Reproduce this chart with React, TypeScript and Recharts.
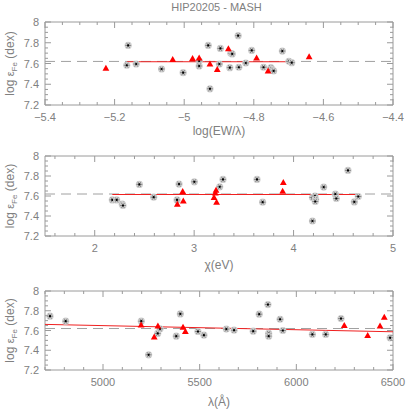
import { ScatterChart, Scatter, XAxis, YAxis, ReferenceLine, ReferenceArea } from "recharts";

// Fe abundance per line, from HIP20205 (MASH). Stars: Fe I, triangles: Fe II
const ewStars = [
  [-5.161, 7.774], [-5.165, 7.583], [-5.138, 7.595], [-5.065, 7.547], [-5.003, 7.512],
  [-4.957, 7.624], [-4.957, 7.576], [-4.931, 7.774], [-4.926, 7.356], [-4.899, 7.595],
  [-4.896, 7.745], [-4.866, 7.698], [-4.862, 7.692], [-4.869, 7.56], [-4.845, 7.868],
  [-4.843, 7.564], [-4.823, 7.605], [-4.806, 7.726], [-4.772, 7.564], [-4.751, 7.56],
  [-4.748, 7.543], [-4.743, 7.528], [-4.718, 7.72], [-4.699, 7.621], [-4.691, 7.608],
];
const ewTris = [
  [-5.225, 7.554], [-5.033, 7.64], [-4.976, 7.65], [-4.957, 7.655], [-4.926, 7.595],
  [-4.905, 7.544], [-4.873, 7.742], [-4.792, 7.655], [-4.759, 7.528], [-4.641, 7.665],
];
const chiStars = [
  [2.177, 7.561], [2.221, 7.561], [2.277, 7.518], [2.284, 7.505], [2.449, 7.716],
  [2.593, 7.588], [2.828, 7.561], [2.848, 7.719], [3.002, 7.742], [3.257, 7.692],
  [3.29, 7.766], [3.632, 7.766], [3.689, 7.538], [4.19, 7.585], [4.19, 7.35],
  [4.215, 7.6], [4.222, 7.565], [4.218, 7.545], [4.303, 7.689], [4.42, 7.618],
  [4.43, 7.575], [4.547, 7.856], [4.611, 7.541], [4.651, 7.595],
];
const chiTris = [
  [2.831, 7.518], [2.885, 7.646], [2.891, 7.551], [3.2, 7.585], [3.213, 7.632],
  [3.22, 7.659], [3.226, 7.538], [3.89, 7.649], [3.897, 7.736],
];
const lamStars = [
  [4726, 7.745], [4807, 7.694], [5198, 7.694], [5236, 7.354], [5283, 7.57],
  [5295, 7.617], [5379, 7.543], [5400, 7.768], [5491, 7.59], [5522, 7.553],
  [5638, 7.614], [5678, 7.603], [5777, 7.593], [5808, 7.765], [5853, 7.863],
  [5857, 7.57], [5857, 7.543], [5916, 7.714], [5930, 7.6], [6083, 7.56],
  [6152, 7.56], [6231, 7.721], [6485, 7.526],
];
const lamTris = [
  [5197, 7.657], [5265, 7.536], [5284, 7.647], [5414, 7.634], [5426, 7.59],
  [6248, 7.651], [6369, 7.55], [6433, 7.647], [6455, 7.735],
];

// linear fits (red) and mean abundance (dashed)
const ewFit = [[-5.165, 7.617], [-4.691, 7.617]];
const chiFit = [[2.177, 7.615], [4.651, 7.615]];
const lamFit = [[4700, 7.662], [6500, 7.587]];
const meanFe = 7.62;

const yMajor = [7.2, 7.4, 7.6, 7.8, 8];
const ewMajor = [-5.4, -5.2, -5, -4.8, -4.6, -4.4];
const chiMajor = [2, 3, 4, 5];
const lamMajor = [5000, 5500, 6000, 6500];

const FRAME = "#9a9a9a";
const TEXT = "#808080";
const FONT = "'Liberation Sans', Arial, sans-serif";
const PLOT_LEFT = 45;
const PLOT_RIGHT = 393;

// tick positions on multiples of step inside [lo, hi]
const steps = (lo: number, hi: number, step: number) => {
  const out: number[] = [];
  const first = Math.ceil(lo / step - 1e-6);
  const last = Math.floor(hi / step + 1e-6);
  for (let i = first; i <= last; i++) out.push(Math.round(i * step * 1000) / 1000);
  return out;
};

const isMajor = (v: number, majors: number[]) => majors.some((m) => Math.abs(m - v) < 1e-6);
const fmt = (v: number) => (v < 0 ? "\u2212" + String(Math.abs(v)) : String(v));

const Star = (p: any) => {
  const { cx, cy } = p;
  if (cx == null || cy == null) return null;
  return (
    <g>
      <circle cx={cx} cy={cy} r={3.6} fill="#cfcfcf" />
      <path
        d={`M${cx - 3},${cy} h6 M${cx - 1.5},${cy - 2.6} l3,5.2 M${cx + 1.5},${cy - 2.6} l-3,5.2`}
        stroke="#7a7a7a"
        strokeWidth={0.8}
      />
      <circle cx={cx} cy={cy} r={1.1} fill="#000" />
    </g>
  );
};

const Tri = (p: any) => {
  const { cx, cy } = p;
  if (cx == null || cy == null) return null;
  return <path d={`M${cx},${cy - 3.4} L${cx + 3.4},${cy + 2.6} L${cx - 3.4},${cy + 2.6} Z`} fill="#ff0000" />;
};

interface PanelProps {
  top: number;
  height: number;
  xh: number;
  domain: [number, number];
  minorStep: number;
  majors: number[];
  stars: number[][];
  tris: number[][];
  fit: number[][];
  xLabel: string;
}

function Panel({ top, height, xh, domain, minorStep, majors, stars, tris, fit, xLabel }: PanelProps) {
  const mt = 22;
  const plotH = height - mt - xh;
  const plotW = PLOT_RIGHT - PLOT_LEFT;
  const xTicks = steps(domain[0], domain[1], minorStep);
  const yTicks = steps(7.2, 8, 0.05);

  const XTick = (p: any) => {
    const { x, y, payload } = p;
    const major = isMajor(payload.value, majors);
    const len = major ? 6 : 3;
    return (
      <g>
        <line x1={x} y1={y} x2={x} y2={y - len} stroke={FRAME} />
        <line x1={x} y1={y - plotH} x2={x} y2={y - plotH + len} stroke={FRAME} />
        {major && (
          <text x={x} y={y + 16} textAnchor="middle" fill={TEXT} fontSize={11} fontFamily={FONT}>
            {fmt(payload.value)}
          </text>
        )}
      </g>
    );
  };

  const YTick = (p: any) => {
    const { x, y, payload } = p;
    const major = isMajor(payload.value, yMajor);
    const len = major ? 6 : 3;
    return (
      <g>
        <line x1={x} y1={y} x2={x + len} y2={y} stroke={FRAME} />
        <line x1={x + plotW} y1={y} x2={x + plotW - len} y2={y} stroke={FRAME} />
        {major && (
          <text x={x - 6} y={y + 4} textAnchor="end" fill={TEXT} fontSize={11} fontFamily={FONT}>
            {payload.value}
          </text>
        )}
      </g>
    );
  };

  const cy = mt + plotH / 2;

  return (
    <div style={{ position: "absolute", left: 0, top, width: 415, height }}>
      <ScatterChart width={415} height={height} margin={{ top: mt, right: 415 - PLOT_RIGHT, bottom: 0, left: 0 }}>
        <XAxis
          type="number"
          dataKey="x"
          domain={domain}
          ticks={xTicks}
          interval={0}
          allowDataOverflow
          height={xh}
          tickSize={0}
          tickMargin={0}
          axisLine={false}
          tickLine={false}
          tick={XTick}
          label={{
            content: () => (
              <text x={(PLOT_LEFT + PLOT_RIGHT) / 2} y={height - 3} textAnchor="middle" fill={TEXT} fontSize={12} fontFamily={FONT}>
                {xLabel}
              </text>
            ),
          }}
        />
        <YAxis
          type="number"
          dataKey="y"
          domain={[7.2, 8]}
          ticks={yTicks}
          interval={0}
          allowDataOverflow
          width={PLOT_LEFT}
          tickSize={0}
          tickMargin={0}
          axisLine={false}
          tickLine={false}
          tick={YTick}
          label={{
            content: () => (
              <text
                x={14}
                y={cy}
                transform={`rotate(-90 14 ${cy})`}
                textAnchor="middle"
                fill={TEXT}
                fontSize={12}
                fontFamily={FONT}
              >
                log <tspan fontSize={11}>ε</tspan>
                <tspan fontSize={8} dy={3}>Fe</tspan>
                <tspan dy={-3}> (dex)</tspan>
              </text>
            ),
          }}
        />
        <ReferenceArea
          x1={domain[0]}
          x2={domain[1]}
          y1={7.2}
          y2={8}
          fill="none"
          stroke={FRAME}
          strokeWidth={1}
          ifOverflow="visible"
        />
        <ReferenceLine y={meanFe} stroke="#a0a0a0" strokeDasharray="10 6" strokeWidth={1} />
        <ReferenceLine
          segment={[
            { x: fit[0][0], y: fit[0][1] },
            { x: fit[1][0], y: fit[1][1] },
          ]}
          stroke="#f02020"
          strokeWidth={1}
        />
        <Scatter data={stars.map(([x, y]) => ({ x, y }))} shape={Star} isAnimationActive={false} />
        <Scatter data={tris.map(([x, y]) => ({ x, y }))} shape={Tri} isAnimationActive={false} />
      </ScatterChart>
    </div>
  );
}

export default function App() {
  return (
    <div style={{ position: "absolute", left: 0, top: 0, width: 415, height: 415, background: "#fff" }}>
      <div
        style={{
          position: "absolute",
          left: 0,
          top: 1,
          width: 415,
          textAlign: "center",
          paddingLeft: 18,
          boxSizing: "border-box",
          color: TEXT,
          fontFamily: FONT,
          fontSize: 11,
          lineHeight: "13px",
        }}
      >
        HIP20205 - MASH
      </div>
      <Panel top={0} height={138} xh={33} domain={[-5.4, -4.4]} minorStep={0.05} majors={ewMajor}
        stars={ewStars} tris={ewTris} fit={ewFit} xLabel="log(EW/λ)" />
      <Panel top={134} height={138} xh={36} domain={[1.5, 5]} minorStep={0.2} majors={chiMajor}
        stars={chiStars} tris={chiTris} fit={chiFit} xLabel="χ(eV)" />
      <Panel top={269} height={140} xh={39} domain={[4700, 6500]} minorStep={100} majors={lamMajor}
        stars={lamStars} tris={lamTris} fit={lamFit} xLabel="λ(Å)" />
    </div>
  );
}
